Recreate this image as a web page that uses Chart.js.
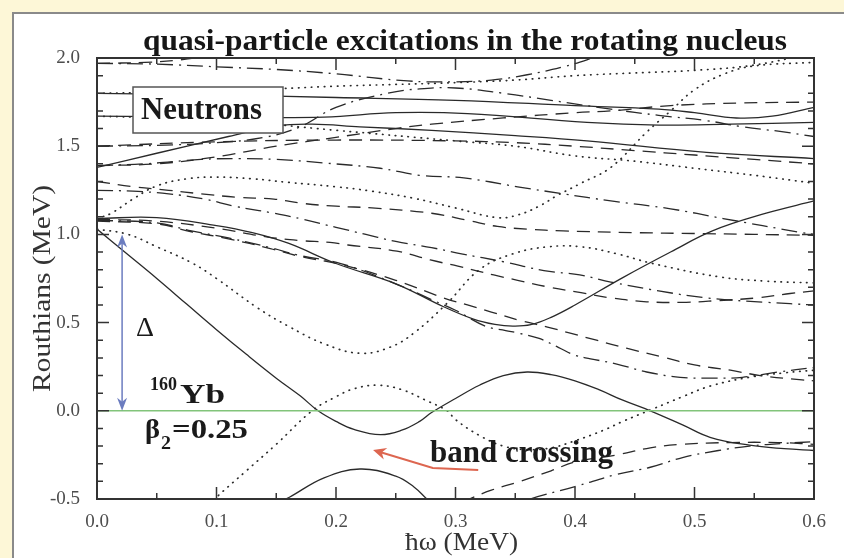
<!DOCTYPE html>
<html>
<head>
<meta charset="utf-8">
<script src="https://cdn.jsdelivr.net/npm/chart.js@4.4.1/dist/chart.umd.min.js"></script>
<style>
  html, body { margin: 0; padding: 0; background: #fdf7d7; }
  canvas { display: block; }
</style>
</head>
<body>
<canvas id="c" width="844" height="558"></canvas>
<script>
// Quasi-neutron Routhians of 160Yb (beta2 = 0.25) versus rotational frequency.
// Each level is a list of [hbar*omega (MeV), Routhian (MeV)] pairs.

// solid levels
const solidYrast   = [[0,1.03],[0.025,0.89],[0.05,0.75],[0.075,0.605],[0.1,0.46],[0.125,0.32],[0.15,0.185],[0.17,0.085],[0.185,0.0],[0.2,-0.06],[0.215,-0.105],[0.237,-0.135],[0.255,-0.11],[0.27,-0.06],[0.28,-0.01],[0.3,0.07],[0.32,0.145],[0.34,0.2],[0.36,0.22],[0.38,0.205],[0.4,0.17],[0.42,0.12],[0.44,0.06],[0.463,0.0],[0.49,-0.08],[0.513,-0.15],[0.546,-0.195],[0.575,-0.215],[0.6,-0.225]];
const solidLowArc  = [[0.1,-0.74],[0.134,-0.585],[0.161,-0.49],[0.19,-0.38],[0.22,-0.33],[0.25,-0.37],[0.265,-0.43],[0.276,-0.5],[0.293,-0.61]];
const solidSecond  = [[0,1.09],[0.05,1.095],[0.1,1.05],[0.13,1.01],[0.16,0.95],[0.2,0.835],[0.25,0.72],[0.29,0.59],[0.315,0.52],[0.333,0.49],[0.348,0.48],[0.363,0.488],[0.38,0.53],[0.4,0.6],[0.44,0.755],[0.48,0.9],[0.515,1.02],[0.56,1.12],[0.6,1.19]];
const solidHighA   = [[0,1.8],[0.1,1.79],[0.2,1.776],[0.3,1.76],[0.4,1.73],[0.47,1.71],[0.5,1.69],[0.535,1.66],[0.565,1.67],[0.6,1.72]];
const solidHighB   = [[0,1.67],[0.1,1.665],[0.19,1.665],[0.25,1.69],[0.31,1.685],[0.41,1.635],[0.47,1.62],[0.53,1.625],[0.6,1.635]];
const solidHighC   = [[0,1.38],[0.05,1.46],[0.11,1.555],[0.15,1.615],[0.18,1.625],[0.22,1.61],[0.28,1.59],[0.35,1.56],[0.41,1.53],[0.51,1.465],[0.6,1.43]];

// dotted levels
const dotYrastPartner = [[0,1.03],[0.026,1.0],[0.05,0.93],[0.079,0.84],[0.1,0.75],[0.134,0.585],[0.16,0.48],[0.19,0.38],[0.22,0.326],[0.245,0.36],[0.265,0.44],[0.293,0.61],[0.32,0.8],[0.348,0.89],[0.378,0.93],[0.405,0.93],[0.435,0.89],[0.465,0.835],[0.52,0.76],[0.56,0.735],[0.6,0.725]];
const dotConjugate    = [[0.09,-0.56],[0.1,-0.49],[0.125,-0.34],[0.15,-0.19],[0.18,0.0],[0.2,0.08],[0.215,0.125],[0.235,0.145],[0.255,0.12],[0.275,0.06],[0.293,0.0],[0.3,-0.05],[0.32,-0.14],[0.34,-0.2],[0.36,-0.22],[0.38,-0.21],[0.4,-0.17],[0.424,-0.11],[0.44,-0.06],[0.465,0.01],[0.49,0.08],[0.513,0.14],[0.546,0.19],[0.575,0.215],[0.6,0.23]];
const dotSecond       = [[0,1.09],[0.012,1.12],[0.03,1.2],[0.05,1.275],[0.075,1.315],[0.1,1.325],[0.13,1.315],[0.16,1.295],[0.2,1.27],[0.23,1.245],[0.265,1.205],[0.3,1.15],[0.335,1.095],[0.352,1.11],[0.37,1.16],[0.385,1.22],[0.405,1.29],[0.43,1.38],[0.46,1.58],[0.48,1.7],[0.5,1.82],[0.525,1.91],[0.55,1.955],[0.6,1.975]];
const dotHighA        = [[0,1.8],[0.1,1.81],[0.15,1.825],[0.2,1.84],[0.25,1.85],[0.3,1.86],[0.35,1.875],[0.4,1.9],[0.45,1.915],[0.5,1.93],[0.55,1.96],[0.6,2.03]];
const dotHighB        = [[0,1.67],[0.1,1.65],[0.2,1.59],[0.3,1.53],[0.35,1.5],[0.4,1.445],[0.45,1.415],[0.5,1.375],[0.55,1.335],[0.6,1.29]];

// dashed levels
const dashTopLeft  = [[0,1.97],[0.04,1.975],[0.07,1.99],[0.1,2.02],[0.13,2.06]];
const dashFlat     = [[0,1.5],[0.1,1.525],[0.2,1.535],[0.3,1.53],[0.35,1.52],[0.4,1.5],[0.45,1.475],[0.5,1.45],[0.55,1.425],[0.6,1.4]];
const dashRising   = [[0,1.39],[0.05,1.4],[0.1,1.44],[0.15,1.5],[0.2,1.55],[0.25,1.6],[0.28,1.625],[0.34,1.66],[0.4,1.69],[0.43,1.7],[0.48,1.73],[0.54,1.745],[0.6,1.75]];
const dashUpper    = [[0,1.3],[0.03,1.27],[0.06,1.25],[0.087,1.23],[0.118,1.21],[0.148,1.2],[0.173,1.175],[0.2,1.16],[0.23,1.15],[0.28,1.12],[0.31,1.08],[0.335,1.045],[0.36,1.03],[0.39,1.02],[0.45,1.01],[0.5,1.005],[0.55,1.0],[0.6,0.995]];
const dashMiddle   = [[0,1.085],[0.05,1.075],[0.1,1.035],[0.143,0.985],[0.17,0.965],[0.195,0.955],[0.21,0.94],[0.251,0.905],[0.279,0.855],[0.302,0.82],[0.332,0.77],[0.352,0.74],[0.379,0.7],[0.405,0.67],[0.43,0.64],[0.46,0.618],[0.493,0.615],[0.52,0.625],[0.552,0.64],[0.58,0.665],[0.6,0.68]];
const dashLower    = [[0,1.075],[0.05,1.06],[0.079,1.015],[0.11,0.975],[0.145,0.92],[0.17,0.875],[0.204,0.83],[0.25,0.74],[0.29,0.64],[0.31,0.6],[0.33,0.56],[0.355,0.51],[0.377,0.475],[0.396,0.44],[0.418,0.4],[0.443,0.355],[0.473,0.305],[0.5,0.26],[0.53,0.23],[0.555,0.2],[0.59,0.175],[0.6,0.17]];
const dashNegative = [[0.29,-0.57],[0.31,-0.505],[0.33,-0.45],[0.354,-0.4],[0.38,-0.34],[0.4,-0.29],[0.435,-0.25],[0.463,-0.21],[0.49,-0.19],[0.53,-0.18],[0.57,-0.18],[0.6,-0.19]];

// dash-dotted levels
const dashDotTop      = [[0,1.97],[0.05,1.965],[0.1,1.95],[0.15,1.935],[0.2,1.91],[0.26,1.87],[0.3,1.865],[0.33,1.875],[0.36,1.905],[0.39,1.95],[0.41,1.99],[0.43,2.04]];
const dashDotArc      = [[0,1.5],[0.05,1.505],[0.1,1.52],[0.14,1.55],[0.17,1.61],[0.2,1.72],[0.243,1.8],[0.27,1.825],[0.3,1.83],[0.34,1.8],[0.38,1.76],[0.43,1.71],[0.47,1.675],[0.51,1.645],[0.54,1.61],[0.57,1.585],[0.6,1.555]];
const dashDotHigh     = [[0,1.39],[0.04,1.4],[0.087,1.425],[0.12,1.43],[0.15,1.425],[0.19,1.405],[0.237,1.375],[0.27,1.335],[0.307,1.32],[0.352,1.27],[0.39,1.23],[0.43,1.19],[0.48,1.145],[0.524,1.09],[0.59,1.01],[0.6,1.0]];
const dashDotMiddle   = [[0,1.25],[0.03,1.245],[0.06,1.23],[0.09,1.2],[0.115,1.16],[0.148,1.12],[0.173,1.085],[0.2,1.04],[0.225,1.0],[0.25,0.96],[0.28,0.925],[0.305,0.89],[0.34,0.845],[0.374,0.795],[0.404,0.77],[0.43,0.73],[0.47,0.68],[0.51,0.64],[0.56,0.615],[0.6,0.6]];
const dashDotLower    = [[0,1.08],[0.05,1.065],[0.079,1.02],[0.11,0.98],[0.145,0.925],[0.17,0.88],[0.204,0.835],[0.25,0.72],[0.28,0.63],[0.3,0.57],[0.325,0.48],[0.342,0.455],[0.353,0.44],[0.37,0.41],[0.386,0.36],[0.4,0.315],[0.413,0.295],[0.435,0.265],[0.46,0.22],[0.488,0.19],[0.515,0.185],[0.54,0.19],[0.57,0.22],[0.6,0.245]];
const dashDotNegative = [[0.34,-0.56],[0.36,-0.505],[0.4,-0.43],[0.435,-0.36],[0.463,-0.32],[0.49,-0.265],[0.52,-0.225],[0.546,-0.2],[0.575,-0.185],[0.6,-0.175]];

// Fermi level reference and axis ticks
const fermiLine  = [[0,0],[0.6,0]];
const xTickVals  = [0, 0.1, 0.2, 0.3, 0.4, 0.5, 0.6];
const yTickVals  = [-0.5, 0, 0.5, 1.0, 1.5, 2.0];
const pairingGap = 1.0;   // Delta, drawn as the double arrow at low frequency

const DASH = { solid: [], dashed: [13, 8], dashdot: [16, 6, 2, 6], dotted: [0.5, 6] };
const INK = '#2a2a2a';

function level(points, kind) {
  return {
    data: points.map(p => ({ x: p[0], y: p[1] })),
    borderColor: INK,
    borderWidth: kind === 'dotted' ? 1.7 : 1.3,
    borderDash: DASH[kind],
    borderCapStyle: kind === 'dotted' ? 'round' : 'butt',
    pointRadius: 0,
    fill: false,
    tension: 0.4
  };
}

const datasets = [
  { data: fermiLine.map(p => ({ x: p[0], y: p[1] })), borderColor: '#82c47a', borderWidth: 1.6, pointRadius: 0, fill: false },
  level(solidYrast, 'solid'), level(solidLowArc, 'solid'), level(solidSecond, 'solid'),
  level(solidHighA, 'solid'), level(solidHighB, 'solid'), level(solidHighC, 'solid'),
  level(dotYrastPartner, 'dotted'), level(dotConjugate, 'dotted'), level(dotSecond, 'dotted'),
  level(dotHighA, 'dotted'), level(dotHighB, 'dotted'),
  level(dashTopLeft, 'dashed'), level(dashFlat, 'dashed'), level(dashRising, 'dashed'),
  level(dashUpper, 'dashed'), level(dashMiddle, 'dashed'), level(dashLower, 'dashed'), level(dashNegative, 'dashed'),
  level(dashDotTop, 'dashdot'), level(dashDotArc, 'dashdot'), level(dashDotHigh, 'dashdot'),
  level(dashDotMiddle, 'dashdot'), level(dashDotLower, 'dashdot'), level(dashDotNegative, 'dashdot')
];

// text drawn with a fixed left edge, baseline and overall width
function fitText(ctx, text, left, baseline, width, font, color) {
  ctx.save();
  ctx.font = font;
  ctx.fillStyle = color || '#1a1a1a';
  ctx.textAlign = 'left';
  ctx.textBaseline = 'alphabetic';
  const w = ctx.measureText(text).width;
  ctx.translate(left, baseline);
  ctx.scale(width / w, 1);
  ctx.fillText(text, 0, 0);
  ctx.restore();
}

function arrowHead(ctx, tipX, tipY, angle, len, half, color) {
  ctx.save();
  ctx.translate(tipX, tipY);
  ctx.rotate(angle);
  ctx.fillStyle = color;
  ctx.beginPath();
  ctx.moveTo(0, 0);
  ctx.lineTo(-len, -half);
  ctx.lineTo(-len * 0.7, 0);
  ctx.lineTo(-len, half);
  ctx.closePath();
  ctx.fill();
  ctx.restore();
}

const decor = {
  id: 'decor',
  beforeDraw(chart) {
    const ctx = chart.ctx;
    ctx.save();
    ctx.fillStyle = '#fdf7d7';
    ctx.fillRect(0, 0, chart.width, chart.height);
    ctx.fillStyle = '#ffffff';
    ctx.fillRect(13, 13, chart.width - 13, chart.height - 13);
    ctx.strokeStyle = '#8a8a8a';
    ctx.lineWidth = 2;
    ctx.beginPath();
    ctx.moveTo(13, chart.height);
    ctx.lineTo(13, 13);
    ctx.lineTo(chart.width, 13);
    ctx.stroke();
    ctx.restore();
  },
  afterDatasetsDraw(chart) {
    const ctx = chart.ctx, a = chart.chartArea;
    const xs = chart.scales.x, ys = chart.scales.y;
    ctx.save();

    // frame and inward ticks on all four sides
    ctx.strokeStyle = '#333';
    ctx.lineWidth = 2;
    ctx.strokeRect(a.left, a.top, a.right - a.left, a.bottom - a.top);
    ctx.lineWidth = 1.5;
    ctx.beginPath();
    for (let i = 0; i <= 12; i++) {
      const v = i * 0.05, px = xs.getPixelForValue(v), L = i % 2 === 0 ? 12 : 6;
      ctx.moveTo(px, a.bottom); ctx.lineTo(px, a.bottom - L);
      ctx.moveTo(px, a.top); ctx.lineTo(px, a.top + L);
    }
    for (let i = 0; i <= 25; i++) {
      const v = -0.5 + i * 0.1, py = ys.getPixelForValue(v), L = i % 5 === 0 ? 12 : 6;
      ctx.moveTo(a.left, py); ctx.lineTo(a.left + L, py);
      ctx.moveTo(a.right, py); ctx.lineTo(a.right - L, py);
    }
    ctx.stroke();

    // pairing gap double arrow
    const gx = xs.getPixelForValue(0.021);
    const g0 = ys.getPixelForValue(0), g1 = ys.getPixelForValue(pairingGap);
    const blue = '#6b7cbf';
    ctx.strokeStyle = blue;
    ctx.lineWidth = 1.5;
    ctx.beginPath();
    ctx.moveTo(gx, g0 - 6); ctx.lineTo(gx, g1 + 6);
    ctx.stroke();
    arrowHead(ctx, gx, g1, -Math.PI / 2, 13, 5, blue);
    arrowHead(ctx, gx, g0, Math.PI / 2, 13, 5, blue);

    // band crossing pointer
    const red = '#dd6650';
    const p0 = [xs.getPixelForValue(0.319), ys.getPixelForValue(-0.336)];
    const p1 = [xs.getPixelForValue(0.281), ys.getPixelForValue(-0.324)];
    const p2 = [xs.getPixelForValue(0.231), ys.getPixelForValue(-0.222)];
    const ang = Math.atan2(p2[1] - p1[1], p2[0] - p1[0]);
    ctx.strokeStyle = red;
    ctx.lineWidth = 2;
    ctx.beginPath();
    ctx.moveTo(p0[0], p0[1]);
    ctx.lineTo(p1[0], p1[1]);
    ctx.lineTo(p2[0] - 8 * Math.cos(ang), p2[1] - 8 * Math.sin(ang));
    ctx.stroke();
    arrowHead(ctx, p2[0], p2[1], ang, 13, 6, red);

    // "Neutrons" label box
    ctx.fillStyle = '#ffffff';
    ctx.fillRect(133, 87, 150, 46);
    ctx.strokeStyle = '#555';
    ctx.lineWidth = 1.5;
    ctx.strokeRect(133, 87, 150, 46);
    ctx.restore();

    fitText(ctx, 'Neutrons', 141, 119, 121, 'bold 31px "Liberation Serif"');
    fitText(ctx, 'Δ', 136, 336, 18, '27px "Liberation Serif"');
    fitText(ctx, '160', 150, 390, 27, 'bold 19px "Liberation Serif"');
    fitText(ctx, 'Yb', 180, 403, 45, 'bold 28px "Liberation Serif"');
    fitText(ctx, 'β', 145, 438, 15, 'bold 27px "Liberation Serif"');
    fitText(ctx, '2', 161, 449, 10, 'bold 18px "Liberation Serif"');
    fitText(ctx, '=0.25', 172, 438, 76, 'bold 27px "Liberation Serif"');
    fitText(ctx, 'band crossing', 430, 462, 183, 'bold 31px "Liberation Serif"');
  },
  afterDraw(chart) {
    const ctx = chart.ctx;
    fitText(ctx, 'quasi-particle excitations in the rotating nucleus', 143, 50, 644, 'bold 29px "Liberation Serif"', '#161616');
    fitText(ctx, 'ħω (MeV)', 405, 550, 113, '25px "Liberation Serif"', '#333');
    ctx.save();
    ctx.translate(50, 392);
    ctx.rotate(-Math.PI / 2);
    fitText(ctx, 'Routhians (MeV)', 0, 0, 207, '26px "Liberation Serif"', '#333');
    ctx.restore();
  }
};

new Chart(document.getElementById('c'), {
  type: 'line',
  data: { datasets },
  options: {
    responsive: false,
    animation: false,
    events: [],
    layout: { padding: { top: 58, right: 30, left: 0, bottom: 0 } },
    plugins: { legend: { display: false }, tooltip: { enabled: false }, title: { display: false } },
    scales: {
      x: {
        type: 'linear', min: 0, max: 0.6,
        afterFit(s) { s.height = 59; },
        afterBuildTicks(s) { s.ticks = xTickVals.map(v => ({ value: v })); },
        ticks: { padding: 12, color: '#4d4d4d', font: { family: 'Liberation Serif', size: 19 },
                 callback: v => Number(v).toFixed(1), maxRotation: 0, autoSkip: false },
        grid: { display: false, drawTicks: false },
        border: { display: false }
      },
      y: {
        type: 'linear', min: -0.5, max: 2.0,
        afterFit(s) { s.width = 97; },
        afterBuildTicks(s) { s.ticks = yTickVals.map(v => ({ value: v })); },
        ticks: { padding: 17, color: '#4d4d4d', font: { family: 'Liberation Serif', size: 19 },
                 callback: v => Number(v).toFixed(1), autoSkip: false },
        grid: { display: false, drawTicks: false },
        border: { display: false }
      }
    }
  },
  plugins: [decor]
});
</script>
</body>
</html>
